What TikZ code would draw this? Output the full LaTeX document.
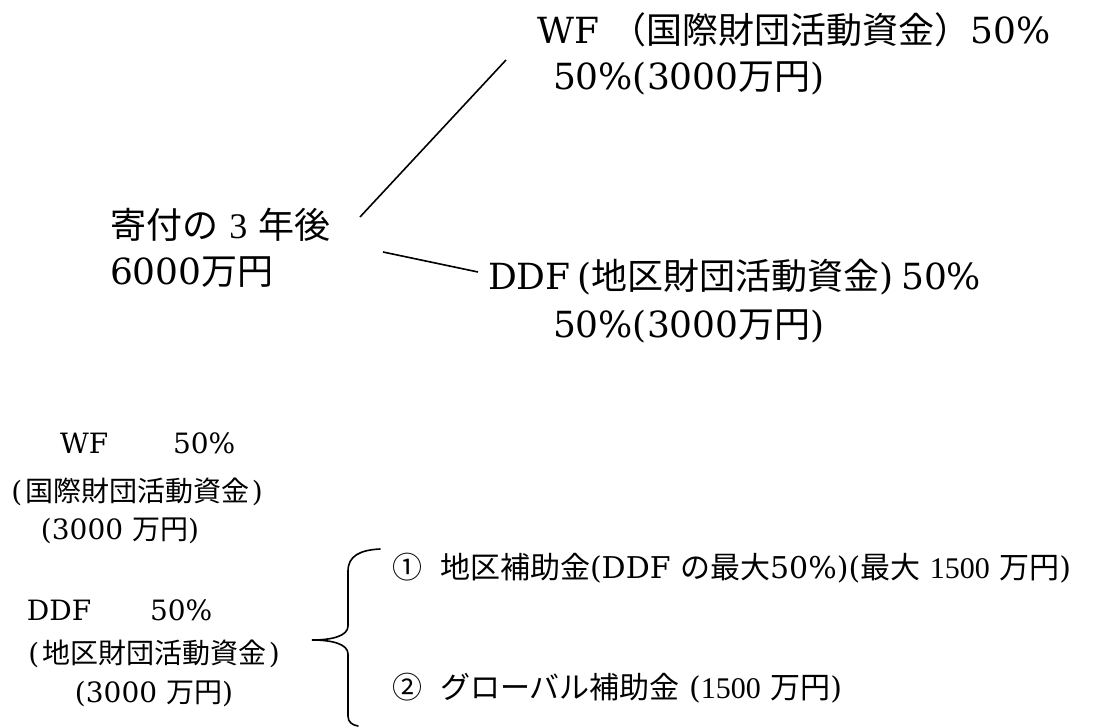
\documentclass[tikz,border=0pt]{standalone}
\usepackage{fontspec}
\setmainfont{DejaVu Serif}
\newfontfamily\jp{Noto Sans CJK JP}
\newfontfamily\ts{Liberation Serif}
\begin{document}
\begin{tikzpicture}[x=1pt,y=-1pt,
  txt/.style={inner sep=0pt,outer sep=0pt,anchor=base west},
  ctr/.style={inner sep=0pt,outer sep=0pt,anchor=base},
  big/.style={font=\fontsize{36}{42}\selectfont},
  small/.style={font=\fontsize{28}{32}\selectfont},
  mid/.style={font=\fontsize{30}{34}\selectfont},
  conn/.style={line width=1.6pt,black},
  bracestyle/.style={line width=1.6pt,black,line cap=round}]
\useasboundingbox (0,0) rectangle (1100,727);
% top part
\node[txt,big] (wf) at (537,44) {WF {\jp （国際財団活動資金）}50\%};
\node[txt,big] (wfv) at (553,90) {50\%(3000{\jp 万円})};
\node[txt,big] (don) at (110,239) {{\jp 寄付の} {\ts 3} {\jp 年後}};
\node[txt,big] (donv) at (110,285) {6000{\jp 万円}};
\node[txt,big] (ddf) at (488,290) {DDF\hspace{0.2em}({\jp 地区財団活動資金})\hspace{0.2em}50\%};
\node[txt,big] (ddfv) at (553,337) {50\%(3000{\jp 万円})};
\coordinate (l1a) at (360,217);
\coordinate (l1b) at (506,60);
\coordinate (l2a) at (383,252);
\coordinate (l2b) at (478,272);
\draw[conn] (l1a) -- (l1b);
\draw[conn] (l2a) -- (l2b);
% bottom left
\node[txt,small] (bwf) at (60,453) {WF};
\node[txt,small] (bwfp) at (173,453) {50\%};
\node[ctr,small] (bwfn) at (137,501) {(\hspace{0.1em}{\jp 国際財団活動資金}\hspace{0.1em})};
\node[ctr,small] (bwfv) at (120,539) {(3000 {\jp 万円})};
\node[txt,small] (bddf) at (27,620) {DDF};
\node[txt,small] (bddfp) at (150,620) {50\%};
\node[ctr,small] (bddfn) at (154,663) {(\hspace{0.1em}{\jp 地区財団活動資金}\hspace{0.1em})};
\node[ctr,small] (bddfv) at (154,702) {(3000 {\jp 万円})};
% brace
\coordinate (btop) at (380,549);
\coordinate (btip) at (312,640);
\coordinate (bbot) at (358,726);
\draw[bracestyle] (btop) .. controls (360,550) and (348,556) .. (348,571)
  -- (348,626) .. controls (348,636) and (332,640) .. (btip)
  .. controls (332,640) and (348,644) .. (348,654)
  -- (348,716) .. controls (348,722) and (352,725) .. (bbot);
% right items
\node[txt,mid] (g1) at (392,578) {{\jp ①\hspace{0.6em}地区補助金}(DDF {\jp の最大}50\%)({\jp 最大} {\ts 1500} {\jp 万円})};
\node[txt,mid] (g2) at (392,698) {{\jp ②\hspace{0.6em}グローバル補助金} ({\ts 1500} {\jp 万円})};
\end{tikzpicture}
\end{document}
